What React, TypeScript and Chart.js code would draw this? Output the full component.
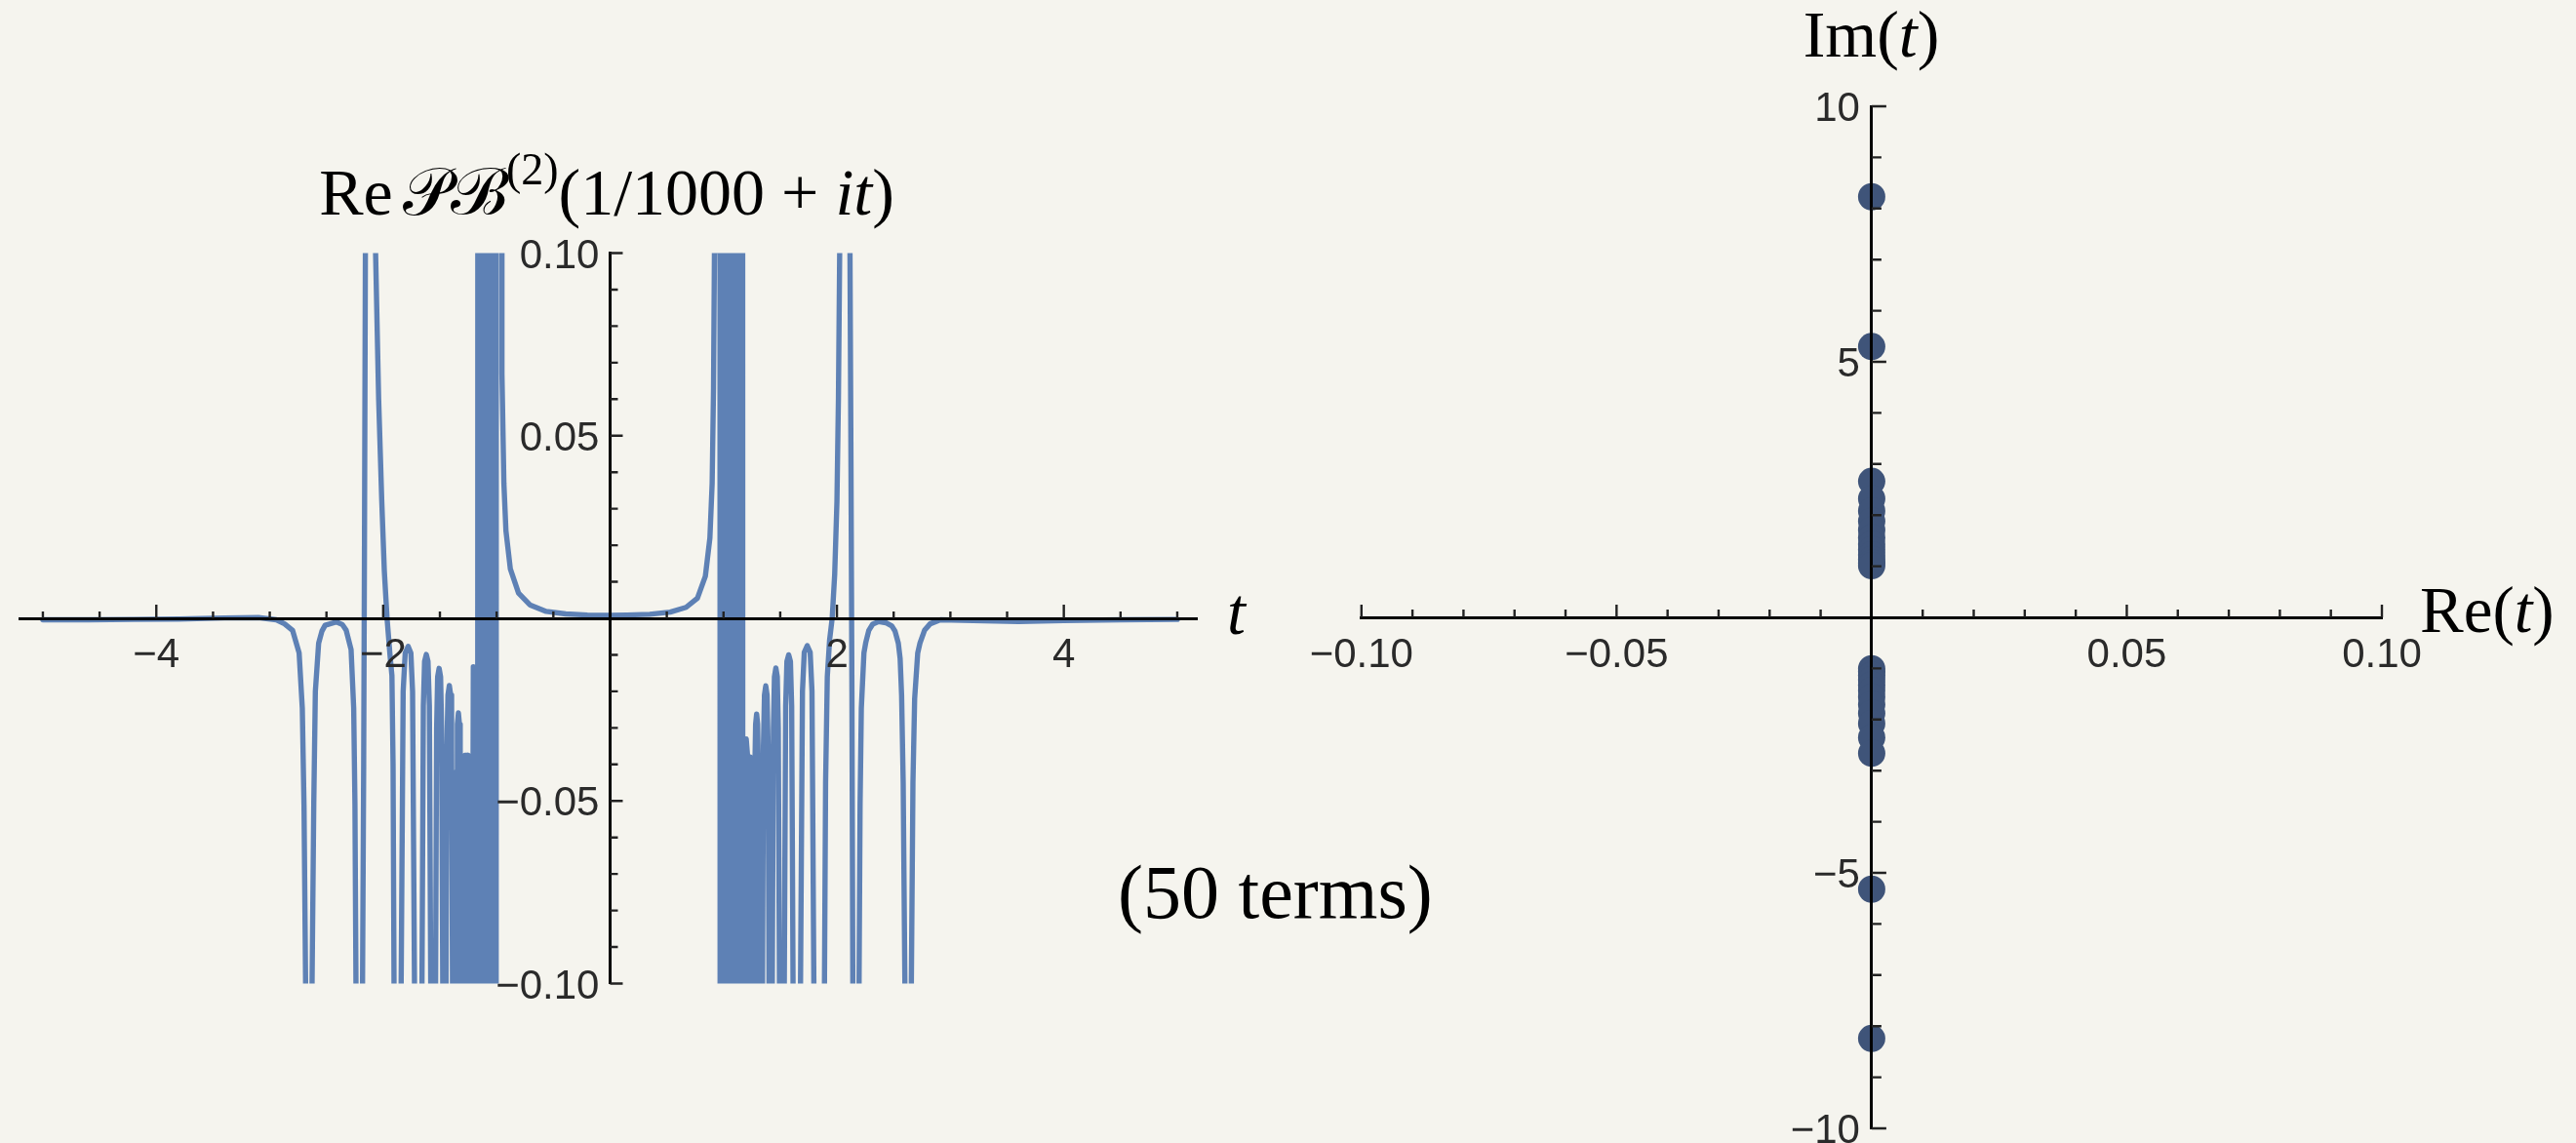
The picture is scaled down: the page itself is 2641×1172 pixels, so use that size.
import React, { useEffect, useRef } from 'react';
import { Chart, registerables } from 'chart.js';

Chart.register(...registerables);

// ---------- colours ----------
const BG = '#F5F4EE';
const LINE_BLUE = '#5E81B5';
const DOT_NAVY = '#3F5479';
const AXIS_BLACK = '#000000';
const TICK_COLOR = '#222222';
const LABEL_COLOR = '#2A2A2A';
const SANS = '"Liberation Sans", Arial, Helvetica, sans-serif';
const SERIF = '"Liberation Serif", "DejaVu Serif", "Times New Roman", serif';

// ---------- left plot: Re PB^(2)(1/1000 + i t), 50 terms (values outside ±0.1 are clipped) ----------
const tValues = [
  -5.0, -4.6, -4.2, -3.8, -3.4, -3.1, -2.942, -2.87, -2.799, -2.741,
  -2.713, -2.698, -2.684, -2.655, -2.627, -2.612, -2.598, -2.569, -2.54, -2.512,
  -2.412, -2.36, -2.326, -2.283, -2.26, -2.249, -2.24, -2.21, -2.182, -2.172,
  -2.165, -2.157, -2.112, -2.067, -2.04, -2.013, -1.99, -1.966, -1.94, -1.923,
  -1.913, -1.9045, -1.8702, -1.8415, -1.824, -1.806, -1.78, -1.756, -1.741, -1.724,
  -1.691, -1.658, -1.646, -1.635, -1.62, -1.605, -1.593, -1.581, -1.559, -1.538,
  -1.529, -1.52, -1.507, -1.494, -1.485, -1.475, -1.46, -1.446, -1.438, -1.429,
  -1.417, -1.405, -1.397, -1.389, -1.374, -1.36, -1.353, -1.346, -1.337, -1.328,
  -1.321, -1.314, -1.3, -1.285, -1.279, -1.256, -1.251, -1.242, -1.2055, -1.175,
  -1.158, -1.135, -1.115, -1.095, -1.075, -1.055, -1.035, -1.015, -0.992, -0.956,
  -0.953, -0.936, -0.918, -0.879, -0.807, -0.707, -0.563, -0.391, -0.2, 0.0,
  0.15, 0.35, 0.53, 0.67, 0.77, 0.84, 0.88, 0.9, 0.912, 0.92,
  0.922, 0.958, 0.981, 1.0, 1.02, 1.04, 1.06, 1.08, 1.1, 1.12,
  1.14, 1.16, 1.179, 1.2, 1.213, 1.224, 1.235, 1.252, 1.269, 1.276,
  1.283, 1.292, 1.301, 1.308, 1.315, 1.3295, 1.344, 1.352, 1.361, 1.3725,
  1.384, 1.393, 1.401, 1.4155, 1.43, 1.44, 1.449, 1.4615, 1.474, 1.483,
  1.493, 1.5145, 1.536, 1.548, 1.559, 1.5745, 1.59, 1.601, 1.613, 1.646,
  1.679, 1.696, 1.712, 1.738, 1.764, 1.78, 1.7965, 1.848, 1.89, 1.9,
  1.915, 1.935, 1.958, 1.98, 2.0, 2.013, 2.024, 2.07, 2.115, 2.124,
  2.132, 2.14, 2.165, 2.195, 2.204, 2.215, 2.238, 2.255, 2.281, 2.315,
  2.368, 2.43, 2.484, 2.512, 2.541, 2.557, 2.57, 2.584, 2.599, 2.627,
  2.656, 2.67, 2.685, 2.712, 2.732, 2.772, 2.822, 2.912, 3.2, 3.6,
  4.0, 4.5, 5.0,
];
const reValues = [
  -0.0004, -0.0004, -0.0003, -0.0002, 0.0001, 0.0002, -0.0004, -0.0015, -0.0033, -0.0095,
  -0.0246, -0.0512, -0.1, -0.4, -0.1, -0.051, -0.02, -0.0068, -0.0035, -0.0019,
  -0.001, -0.0017, -0.0033, -0.0086, -0.0246, -0.051, -0.1, -0.4, -0.1, -0.04,
  0.02, 0.1, 0.45, 0.1, 0.06, 0.0325, 0.013, 0.0, -0.01, -0.0157,
  -0.04, -0.1, -0.4, -0.1, -0.02, -0.0095, -0.0077, -0.0095, -0.02, -0.1,
  -0.4, -0.1, -0.024, -0.0118, -0.0099, -0.0118, -0.024, -0.1, -0.4, -0.1,
  -0.03, -0.016, -0.0137, -0.016, -0.03, -0.1, -0.4, -0.1, -0.035, -0.021,
  -0.0184, -0.021, -0.035, -0.1, -0.4, -0.1, -0.042, -0.029, -0.0259, -0.029,
  -0.042, -0.1, -0.4, -0.1, -0.0375, -0.0375, -0.1, -0.4, -0.0133, -2,
  2, -2, 2, -2, 2, -2, 2, -2, 2, 2,
  0.067, 0.037, 0.024, 0.0135, 0.0069, 0.0037, 0.0019, 0.0012, 0.0009, 0.0008,
  0.0009, 0.0011, 0.0017, 0.003, 0.0055, 0.0115, 0.022, 0.037, 0.063, 0.1,
  2, 2, -2, 2, -2, 2, -2, 2, -2, 2,
  -2, 2, -2, -0.033, -0.038, -0.3, -0.038, -0.4, -0.1, -0.042,
  -0.029, -0.0262, -0.029, -0.042, -0.1, -0.4, -0.1, -0.035, -0.021, -0.0185,
  -0.021, -0.035, -0.1, -0.4, -0.1, -0.03, -0.016, -0.0136, -0.016, -0.03,
  -0.1, -0.4, -0.1, -0.024, -0.0118, -0.01, -0.0118, -0.024, -0.1, -0.4,
  -0.1, -0.02, -0.0093, -0.0075, -0.0093, -0.02, -0.1, -0.4, -0.1, -0.045,
  -0.016, -0.006, 0.0, 0.012, 0.032, 0.06, 0.1, 0.45, 0.1, 0.04,
  -0.02, -0.1, -0.4, -0.1, -0.051, -0.0246, -0.0095, -0.0065, -0.0033, -0.0016,
  -0.0009, -0.0012, -0.0021, -0.0035, -0.0068, -0.011, -0.021, -0.045, -0.1, -0.4,
  -0.1, -0.045, -0.022, -0.0095, -0.0068, -0.0033, -0.0015, -0.0004, -0.0006, -0.0009,
  -0.0006, -0.0004, -0.0003,
];

const leftXTicks = [-5, -4.5, -4, -3.5, -3, -2.5, -2, -1.5, -1, -0.5, 0.5, 1, 1.5, 2, 2.5, 3, 3.5, 4, 4.5, 5];
const leftXLabelValues = [-4, -2, 2, 4];
const leftXLabelTexts = ['\u22124', '\u22122', '2', '4'];
const leftYTicks = [-0.1, -0.09, -0.08, -0.07, -0.06, -0.05, -0.04, -0.03, -0.02, -0.01,
  0.01, 0.02, 0.03, 0.04, 0.05, 0.06, 0.07, 0.08, 0.09, 0.1];
const leftYLabelValues = [-0.1, -0.05, 0.05, 0.1];
const leftYLabelTexts = ['\u22120.10', '\u22120.05', '0.05', '0.10'];

// ---------- right plot: zeros in the complex t plane ----------
const zerosRe = [0, 0, 0, 0, 0, 0, 0, 0, 0, 0, 0, 0, 0, 0, 0, 0, 0, 0, 0, 0, 0, 0, 0, 0, 0, 0, 0, 0];
const zerosIm = [8.23, 5.3, 2.66, 2.32, 2.08, 1.88, 1.71, 1.56, 1.43, 1.32, 1.22, 1.13, 1.06, 1.01,
  -1.005, -1.06, -1.13, -1.22, -1.32, -1.43, -1.56, -1.71, -1.88, -2.08, -2.35, -2.66, -5.32, -8.24];

const rightXTicks = [-0.1, -0.09, -0.08, -0.07, -0.06, -0.05, -0.04, -0.03, -0.02, -0.01,
  0.01, 0.02, 0.03, 0.04, 0.05, 0.06, 0.07, 0.08, 0.09, 0.1];
const rightXLabelValues = [-0.1, -0.05, 0.05, 0.1];
const rightXLabelTexts = ['\u22120.10', '\u22120.05', '0.05', '0.10'];
const rightYTicks = [-10, -9, -8, -7, -6, -5, -4, -3, -2, -1, 1, 2, 3, 4, 5, 6, 7, 8, 9, 10];
const rightYLabelValues = [-10, -5, 5, 10];
const rightYLabelTexts = ['\u221210', '\u22125', '5', '10'];

// ---------- helpers ----------
function labelLookup(values: number[], texts: string[]) {
  return (v: number | string) => {
    const n = Number(v);
    const i = values.findIndex((x) => Math.abs(x - n) < 1e-9);
    return i >= 0 ? texts[i] : '';
  };
}

type Run = { text: string; italic?: boolean; scale?: number; rise?: number };
type TextItem = { runs: Run[]; x: number; y: number; size: number; align: 'left' | 'center' };

// Mathematica-style axes: ticks point into the plot, labels on the other side of the axis.
const innerTicksPlugin = {
  id: 'innerTicks',
  afterDraw(chart: any, _args: any, opts: any) {
    const { ctx, scales } = chart;
    const xs = scales.x;
    const ys = scales.y;
    const axisY = ys.getPixelForValue(0);
    const axisX = xs.getPixelForValue(0);
    ctx.save();
    ctx.strokeStyle = opts.color;
    ctx.lineWidth = opts.width;
    ctx.lineCap = 'butt';
    ctx.beginPath();
    xs.ticks.forEach((t: any) => {
      const px = xs.getPixelForValue(t.value);
      const len = t.label ? opts.xMajor : opts.xMinor;
      ctx.moveTo(px, axisY);
      ctx.lineTo(px, axisY - len);
    });
    ys.ticks.forEach((t: any) => {
      const py = ys.getPixelForValue(t.value);
      const len = t.label ? opts.yMajor : opts.yMinor;
      ctx.moveTo(axisX, py);
      ctx.lineTo(axisX + len, py);
    });
    ctx.stroke();

    ctx.fillStyle = LABEL_COLOR;
    ctx.font = `${opts.fontSize}px ${SANS}`;
    ctx.textBaseline = 'alphabetic';
    ctx.textAlign = 'center';
    xs.ticks.forEach((t: any) => {
      if (!t.label) return;
      ctx.fillText(t.label, xs.getPixelForValue(t.value), axisY + opts.xLabelDrop);
    });
    ctx.textAlign = 'right';
    ys.ticks.forEach((t: any) => {
      if (!t.label) return;
      ctx.fillText(t.label, axisX - opts.yLabelGap, ys.getPixelForValue(t.value) + opts.yLabelShift);
    });
    ctx.restore();
  },
};

const mathTextPlugin = {
  id: 'mathText',
  afterDraw(chart: any, _args: any, opts: any) {
    const ctx: CanvasRenderingContext2D = chart.ctx;
    const items: TextItem[] = opts.items || [];
    ctx.save();
    ctx.fillStyle = '#000000';
    ctx.textBaseline = 'alphabetic';
    ctx.textAlign = 'left';
    items.forEach((item) => {
      const fontFor = (r: Run) => `${r.italic ? 'italic ' : ''}${Math.round(item.size * (r.scale || 1))}px ${SERIF}`;
      const widths = item.runs.map((r) => {
        ctx.font = fontFor(r);
        return ctx.measureText(r.text).width;
      });
      const total = widths.reduce((a, b) => a + b, 0);
      let cx = item.align === 'center' ? item.x - total / 2 : item.x;
      item.runs.forEach((r, i) => {
        ctx.font = fontFor(r);
        ctx.fillText(r.text, cx, item.y - (r.rise || 0) * item.size);
        cx += widths[i];
      });
    });
    ctx.restore();
  },
};

// The library's own tick labels are kept (tiny, transparent) only so that each tick carries its label;
// the visible labels are painted by innerTicksPlugin on the far side of the axis.
function axisScale(min: number, max: number, pos: any, tickValues: number[], label: (v: any) => string,
  dim: 'width' | 'height') {
  return {
    type: 'linear',
    min,
    max,
    position: pos,
    grid: { display: false, drawTicks: false },
    border: { display: true, color: AXIS_BLACK, width: 3, z: 1 },
    ticks: {
      autoSkip: false,
      maxRotation: 0,
      minRotation: 0,
      padding: 0,
      color: 'rgba(0,0,0,0)',
      font: { family: SANS, size: 1 },
      callback: (v: any) => label(v),
    },
    afterBuildTicks: (s: any) => {
      s.ticks = tickValues.map((v) => ({ value: v }));
    },
    afterFit: (s: any) => {
      s[dim] = 0;
    },
  };
}

// ---------- layout ----------
const LEFT_W = 1330;
const RIGHT_LEFT = 1130;
const RIGHT_W = 2641 - RIGHT_LEFT;
const H = 1172;

function leftConfig(): any {
  return {
    type: 'scatter',
    data: {
      datasets: [{
        data: tValues.map((t, i) => ({ x: t, y: reValues[i] })),
        showLine: true,
        borderColor: LINE_BLUE,
        borderWidth: 5.4,
        pointRadius: 0,
        pointHoverRadius: 0,
        borderJoinStyle: 'round',
        borderCapStyle: 'round',
        tension: 0,
        clip: 0,
      }],
    },
    options: {
      animation: false,
      responsive: false,
      devicePixelRatio: 1,
      events: [],
      layout: { autoPadding: false, padding: { left: 20.7, right: LEFT_W - 1227.9, top: 259.5, bottom: H - 1008.5 } },
      plugins: {
        legend: { display: false },
        tooltip: { enabled: false },
        innerTicks: {
          color: TICK_COLOR, width: 2.4, xMajor: 14, xMinor: 7, yMajor: 13, yMinor: 8,
          fontSize: 42, xLabelDrop: 50, yLabelGap: 11, yLabelShift: 15,
        },
        mathText: {
          items: [
            {
              x: 622, y: 220, size: 68, align: 'center',
              runs: [
                { text: 'Re' },
                { text: ' ', scale: 0.6 },
                { text: '\u{1D4AB}\u212C' },
                { text: '(2)', scale: 0.68, rise: 0.45 },
                { text: '(1/1000 + ' },
                { text: 'it', italic: true },
                { text: ')' },
              ],
            },
            { x: 1258, y: 650, size: 68, align: 'left', runs: [{ text: 't', italic: true }] },
          ],
        },
      },
      scales: {
        x: axisScale(-5.2, 5.18, { y: 0 }, leftXTicks, labelLookup(leftXLabelValues, leftXLabelTexts), 'height'),
        y: axisScale(-0.1, 0.1, { x: 0 }, leftYTicks, labelLookup(leftYLabelValues, leftYLabelTexts), 'width'),
      },
    },
    plugins: [innerTicksPlugin, mathTextPlugin],
  };
}

function rightConfig(): any {
  return {
    type: 'scatter',
    data: {
      datasets: [{
        data: zerosRe.map((re, i) => ({ x: re, y: zerosIm[i] })),
        pointRadius: 14,
        pointHoverRadius: 14,
        pointBorderWidth: 0,
        pointBackgroundColor: DOT_NAVY,
        showLine: false,
        clip: false,
      }],
    },
    options: {
      animation: false,
      responsive: false,
      devicePixelRatio: 1,
      events: [],
      layout: { autoPadding: false, padding: { left: 1395.8 - RIGHT_LEFT, right: RIGHT_W - (2442 - RIGHT_LEFT), top: 109, bottom: H - 1157 } },
      plugins: {
        legend: { display: false },
        tooltip: { enabled: false },
        innerTicks: {
          color: TICK_COLOR, width: 2.4, xMajor: 13, xMinor: 8, yMajor: 15, yMinor: 10,
          fontSize: 42, xLabelDrop: 51, yLabelGap: 12, yLabelShift: 15,
        },
        mathText: {
          items: [
            { x: 1918.5 - RIGHT_LEFT, y: 58, size: 68, align: 'center', runs: [{ text: 'Im(' }, { text: 't', italic: true }, { text: ')' }] },
            { x: 2481 - RIGHT_LEFT, y: 648, size: 67, align: 'left', runs: [{ text: 'Re(' }, { text: 't', italic: true }, { text: ')' }] },
            { x: 1146 - RIGHT_LEFT, y: 941, size: 78, align: 'left', runs: [{ text: '(50 terms)' }] },
          ],
        },
      },
      scales: {
        x: axisScale(-0.1, 0.1, { y: 0 }, rightXTicks, labelLookup(rightXLabelValues, rightXLabelTexts), 'height'),
        y: axisScale(-10, 10, { x: 0 }, rightYTicks, labelLookup(rightYLabelValues, rightYLabelTexts), 'width'),
      },
    },
    plugins: [innerTicksPlugin, mathTextPlugin],
  };
}

export default function App() {
  const leftRef = useRef<HTMLCanvasElement>(null);
  const rightRef = useRef<HTMLCanvasElement>(null);

  useEffect(() => {
    document.body.style.margin = '0';
    document.body.style.background = BG;
    const left = new Chart(leftRef.current as HTMLCanvasElement, leftConfig());
    const right = new Chart(rightRef.current as HTMLCanvasElement, rightConfig());
    return () => {
      left.destroy();
      right.destroy();
    };
  }, []);

  return (
    <div style={{ position: 'absolute', left: 0, top: 0, width: 2641, height: H, background: BG, overflow: 'hidden' }}>
      <canvas ref={leftRef} width={LEFT_W} height={H} style={{ position: 'absolute', left: 0, top: 0, width: LEFT_W, height: H }} />
      <canvas ref={rightRef} width={RIGHT_W} height={H} style={{ position: 'absolute', left: RIGHT_LEFT, top: 0, width: RIGHT_W, height: H }} />
    </div>
  );
}
